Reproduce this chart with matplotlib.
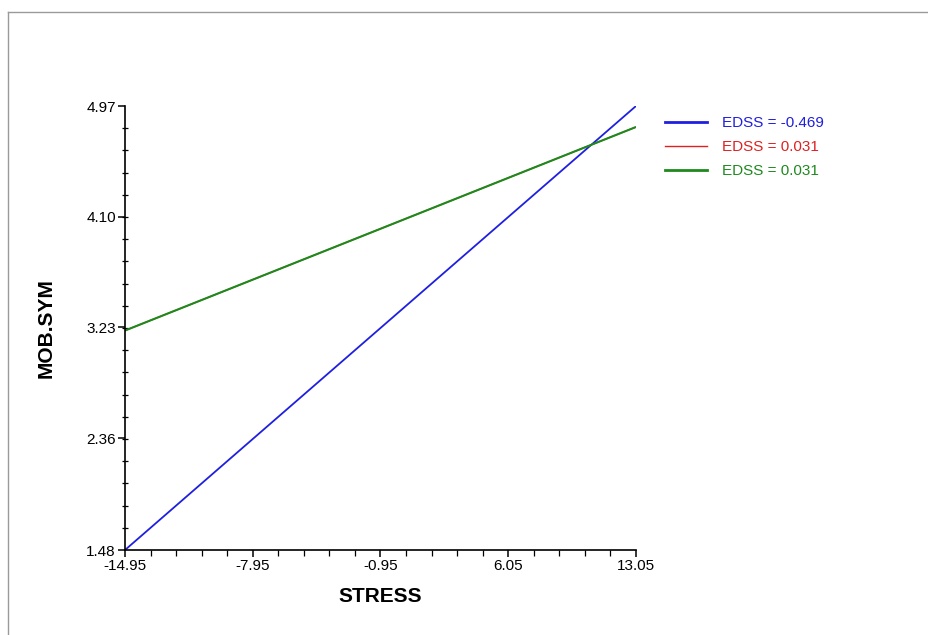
import matplotlib
matplotlib.use("Agg")
import matplotlib.pyplot as plt
from matplotlib.lines import Line2D
from matplotlib.ticker import FixedLocator

plt.rcParams['font.family'] = ['Liberation Sans', 'DejaVu Sans']

stress = [-14.95, 13.05]
series_labels = ["EDSS = -0.469", "EDSS = 0.031", "EDSS = 0.031"]
series_values = [[1.48, 4.97], [3.205, 4.805], [3.205, 4.805]]
series_colors = ["#1f1fe0", "#e02020", "#1e8a1e"]
series_widths = [1.3, 1.0, 1.5]
legend_widths = [2.0, 1.0, 2.0]
xticks = [-14.95, -7.95, -0.95, 6.05, 13.05]
yticks = [1.48, 2.36, 3.23, 4.10, 4.97]

W, H = 929, 635
fig = plt.figure(figsize=(W / 100, H / 100), dpi=100)
ax = fig.add_axes([125 / W, 1 - 550 / H, (636 - 125) / W, (550 - 106) / H])

for vals, lab, col, lw in zip(series_values, series_labels, series_colors, series_widths):
    ax.plot(stress, vals, color=col, lw=lw, label=lab, solid_capstyle='butt')

ax.set_xlim(xticks[0], xticks[-1])
ax.set_ylim(yticks[0], yticks[-1])
ax.set_xticks(xticks)
ax.set_xticklabels([f"{v:.2f}" for v in xticks])
ax.set_yticks(yticks)
ax.set_yticklabels([f"{v:.2f}" for v in yticks])
nx = 20
ax.xaxis.set_minor_locator(FixedLocator([xticks[0] + i * (xticks[-1] - xticks[0]) / nx for i in range(nx + 1)]))
ny = 20
ax.yaxis.set_minor_locator(FixedLocator([yticks[0] + i * (yticks[-1] - yticks[0]) / ny for i in range(ny + 1)]))

for s in ['top', 'right']:
    ax.spines[s].set_visible(False)
for s in ['left', 'bottom']:
    ax.spines[s].set_linewidth(1.2)
ax.tick_params(axis='both', which='major', direction='out', length=5, width=1.1, labelsize=11, pad=1.5, colors='black')
ax.tick_params(axis='x', which='minor', direction='out', length=4, width=0.9)
ax.tick_params(axis='y', which='minor', direction='inout', length=5, width=0.9)

ax.set_xlabel("STRESS", fontsize=15, fontweight='bold', labelpad=10)
ax.set_ylabel("MOB.SYM", fontsize=15, fontweight='bold', labelpad=22)

handles = [Line2D([], [], color=c, lw=w) for c, w in zip(series_colors, legend_widths)]
leg = fig.legend(handles, series_labels, loc='upper left', bbox_to_anchor=(659 / W, 1 - 110 / H),
                 frameon=False, fontsize=11, handlelength=2.75, handletextpad=1.0, labelspacing=0.66,
                 borderaxespad=0)
for txt, col in zip(leg.get_texts(), series_colors):
    txt.set_color(col)

frame_col = "#9a9a9a"
fig.add_artist(Line2D([8 / W, 8 / W], [1 - 12 / H, 0], transform=fig.transFigure, color=frame_col, lw=1.0))
fig.add_artist(Line2D([8 / W, 1], [1 - 12 / H, 1 - 12 / H], transform=fig.transFigure, color=frame_col, lw=1.0))

fig.savefig("out.png", dpi=100)
